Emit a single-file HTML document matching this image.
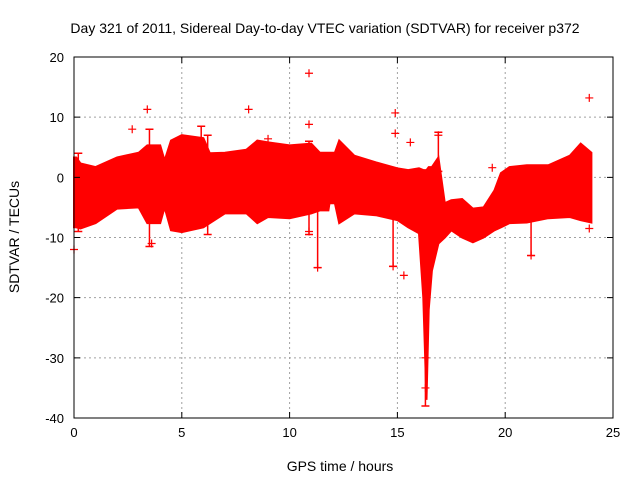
<!DOCTYPE html>
<html><head><meta charset="utf-8"><style>
body{margin:0;background:#fff;}
svg{display:block;font-family:"Liberation Sans",sans-serif;}
</style></head><body>
<svg id="chart" width="640" height="480" xmlns="http://www.w3.org/2000/svg">
<rect width="640" height="480" fill="#fff"/>
<text x="325" y="33" font-size="14" text-anchor="middle">Day 321 of 2011, Sidereal Day-to-day VTEC variation (SDTVAR) for receiver p372</text>
<text x="19" y="237" font-size="14" text-anchor="middle" transform="rotate(-90 19 237)">SDTVAR / TECUs</text>
<text x="340" y="471" font-size="14" text-anchor="middle">GPS time / hours</text>
<g id="grid"></g>
<g id="data"></g>
<g id="axes"></g>
</svg>
<script>
const hours =  [0,0.1,0.3,1,2,3,3.4,3.5,4,4.2,4.5,5,6,6.3,7,8,8.5,9,10,11,11.4,11.8,11.85,12.1,12.3,13,14,15,15.5,16,16.2,16.35,16.45,16.6,16.9,17.2,17.5,18,18.5,19,19.5,19.8,20.2,21,22,23,23.5,24];
const upper =  [3.3,3.3,2.3,1.7,3.3,4.1,5.3,5.3,5.3,2.8,6.1,7,6.5,4,4.1,4.6,6.1,5.8,5.3,5.6,4.1,4.1,4.1,4.1,6.1,3.6,2.5,1.5,1.2,1.5,1.2,1.2,1.7,1.7,3.3,-4.3,-3.8,-3.6,-5.2,-5,-2.2,0.7,1.7,2,2,3.6,5.6,4.1];
const lower =  [-8.3,-8.3,-8.5,-7.6,-5.2,-5,-7.6,-7.6,-7.6,-5,-8.8,-9.1,-8.3,-7.6,-6,-6,-7.6,-6.6,-6.8,-6,-5.5,-5.5,-4.3,-4.3,-7.6,-6,-6.3,-7.1,-8.3,-9.3,-20,-37,-22,-15.5,-11,-10,-8.8,-10,-10.8,-10,-8.8,-8.3,-7.6,-7.5,-6.8,-6.6,-7.1,-7.5];
const outlierT = [0,2.7,3.4,8.1,10.9,10.9,14.9,14.9,15.6,15.3,23.9,11.3,10.9,14.8,16.9,19.4,21.2,16.3,16.3,3.6,23.9,9.0];
const outlierV = [-12,8,11.3,11.3,17.3,8.8,7.3,10.7,5.8,-16.3,13.2,-15,-9,-14.8,7,1.6,-13,-30,-35,-11,-8.5,6.4];
const spikeT  = [3.5,5.9,10.9,11.3,14.8,16.9,21.2,16.3,6.2,0.2];
const spikeHi = [8,8.5,6,-5,-5,7.5,-6,-10,7,4];
const spikeLo = [-11.5,-7,-9.5,-15,-14.8,1,-13,-38,-9.5,-9];
const xTicks = [0,5,10,15,20,25];
const yTicks = [-40,-30,-20,-10,0,10,20];
const X0=74,X1=613,Y0=418,Y1=57;
const sx=v=>X0+(v-0)/25*(X1-X0);
const sy=v=>Y0-(v+40)/60*(Y0-Y1);
const NS="http://www.w3.org/2000/svg";
function mk(tag,attrs,parent){const e=document.createElementNS(NS,tag);for(const k in attrs)e.setAttribute(k,attrs[k]);parent.appendChild(e);return e;}
const grid=document.getElementById('grid'),data=document.getElementById('data'),axes=document.getElementById('axes');
xTicks.forEach(t=>{
  const x=sx(t);
  if(t>0&&t<25){const l=mk('line',{x1:x,x2:x,y1:Y1,y2:Y0,stroke:'#a0a0a0','stroke-dasharray':'2,3'},grid);
  
  }
  const tk=mk('path',{d:`M${x},${Y0}v-6M${x},${Y1}v6`,stroke:'#000'},axes);
  
  
  const tx=mk('text',{x:x,y:Y0+19,'font-size':13,'text-anchor':'middle'},axes);tx.textContent=t;
  
  
});
yTicks.forEach(t=>{
  const y=sy(t);
  if(t>-40&&t<20){const l=mk('line',{x1:X0,x2:X1,y1:y,y2:y,stroke:'#a0a0a0','stroke-dasharray':'2,3'},grid);
  
  }
  const tk=mk('path',{d:`M${X0},${y}h6M${X1},${y}h-6`,stroke:'#000'},axes);
  
  
  const tx=mk('text',{x:X0-10,y:y+5,'font-size':13,'text-anchor':'end'},axes);tx.textContent=t;
  
  
});
const fr=mk('rect',{x:X0,y:Y1,width:X1-X0,height:Y0-Y1,fill:'none',stroke:'#000'},axes);


let d='';
hours.forEach((h,i)=>{d+=(i?'L':'M')+sx(h).toFixed(1)+','+sy(upper[i]).toFixed(1);});
for(let i=hours.length-1;i>=0;i--)d+='L'+sx(hours[i]).toFixed(1)+','+sy(lower[i]).toFixed(1);
const band=mk('path',{d:d+'Z',fill:'#ff0000',stroke:'#ff0000','stroke-width':2},data);


spikeT.forEach((t,i)=>{
  const x=sx(t);
  const s=mk('path',{d:`M${x},${sy(spikeHi[i])}V${sy(spikeLo[i])}M${x-4},${sy(spikeHi[i])}h8M${x-4},${sy(spikeLo[i])}h8`,stroke:'#ff0000','stroke-width':1.5},data);
  
  
});
outlierT.forEach((t,i)=>{
  const x=sx(t),y=sy(outlierV[i]);
  const p=mk('path',{d:`M${x-4},${y}h8M${x},${y-4}v8`,stroke:'#ff0000','stroke-width':1.2},data);
  
  
});
</script>
</body></html>
